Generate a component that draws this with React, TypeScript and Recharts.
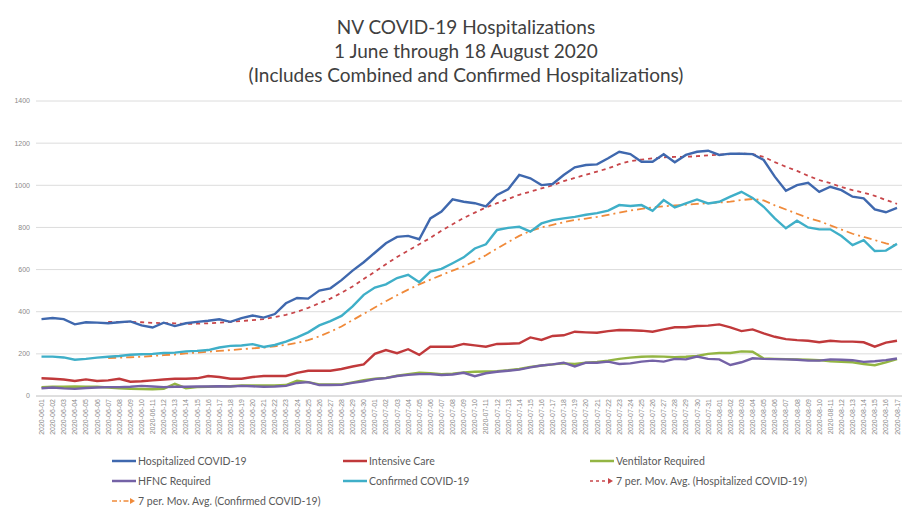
import React from 'react';
import { LineChart, Line, XAxis, YAxis, CartesianGrid } from 'recharts';

const dates = [
  '2020-06-01','2020-06-02','2020-06-03','2020-06-04','2020-06-05','2020-06-06','2020-06-07','2020-06-08','2020-06-09','2020-06-10',
  '2020-06-11','2020-06-12','2020-06-13','2020-06-14','2020-06-15','2020-06-16','2020-06-17','2020-06-18','2020-06-19','2020-06-20',
  '2020-06-21','2020-06-22','2020-06-23','2020-06-24','2020-06-25','2020-06-26','2020-06-27','2020-06-28','2020-06-29','2020-06-30',
  '2020-07-01','2020-07-02','2020-07-03','2020-07-04','2020-07-05','2020-07-06','2020-07-07','2020-07-08','2020-07-09','2020-07-10',
  '2020-07-11','2020-07-12','2020-07-13','2020-07-14','2020-07-15','2020-07-16','2020-07-17','2020-07-18','2020-07-19','2020-07-20',
  '2020-07-21','2020-07-22','2020-07-23','2020-07-24','2020-07-25','2020-07-26','2020-07-27','2020-07-28','2020-07-29','2020-07-30',
  '2020-07-31','2020-08-01','2020-08-02','2020-08-03','2020-08-04','2020-08-05','2020-08-06','2020-08-07','2020-08-08','2020-08-09',
  '2020-08-10','2020-08-11','2020-08-12','2020-08-13','2020-08-14','2020-08-15','2020-08-16','2020-08-17',
];

const hospitalized = [
  365, 370, 365, 340, 350, 348, 345, 350, 354, 335,
  325, 348, 332, 345, 352, 357, 364, 352, 370, 382,
  372, 389, 440, 465, 462, 500, 511, 550, 595, 635,
  680, 725, 755, 760, 744, 843, 875, 933, 922, 915,
  900, 954, 981, 1049, 1033, 1001, 1006, 1049, 1085, 1096,
  1099, 1128, 1159, 1148, 1112, 1112, 1147, 1109, 1144, 1159,
  1164, 1144, 1150, 1150, 1148, 1120, 1041, 974, 1001, 1012,
  969, 993, 977, 946, 938, 886, 872, 893,
];

const intensiveCare = [
  84, 82, 78, 71, 79, 71, 74, 82, 68, 70,
  74, 78, 82, 82, 84, 95, 90, 82, 82, 90,
  95, 95, 95, 110, 120, 120, 120, 128, 140, 150,
  200, 218, 203, 222, 195, 234, 234, 234, 247, 240,
  234, 247, 248, 250, 278, 266, 285, 288, 305, 302,
  300, 308, 313, 312, 310, 305, 316, 326, 326, 332,
  334, 340, 326, 308, 316, 297, 281, 270, 265, 262,
  255, 262, 258, 258, 255, 234, 253, 262,
];

const ventilator = [
  42, 44, 44, 45, 44, 44, 40, 36, 34, 33,
  32, 34, 58, 37, 42, 44, 46, 46, 50, 50,
  50, 50, 52, 72, 66, 55, 55, 55, 65, 75,
  82, 86, 96, 104, 111, 108, 104, 106, 112, 115,
  116, 118, 122, 128, 138, 145, 150, 155, 152, 158,
  162, 168, 176, 182, 186, 188, 187, 184, 186, 190,
  200, 204, 204, 212, 210, 178, 176, 175, 174, 172,
  170, 165, 162, 160, 152, 146, 160, 175,
];

const hfnc = [
  37, 40, 36, 34, 38, 40, 42, 42, 44, 48,
  45, 42, 44, 44, 45, 45, 46, 45, 48, 46,
  44, 45, 48, 62, 66, 52, 52, 53, 62, 70,
  80, 85, 95, 100, 104, 104, 100, 102, 110, 94,
  108, 115, 120, 125, 136, 145, 150, 158, 140, 158,
  158, 163, 152, 155, 163, 168, 163, 176, 174, 187,
  176, 174, 147, 160, 179, 176, 175, 174, 172, 168,
  168, 174, 172, 170, 162, 165, 170, 178,
];

const confirmed = [
  187, 187, 183, 172, 176, 182, 186, 190, 196, 198,
  200, 204, 206, 212, 214, 218, 230, 238, 240, 246,
  233, 242, 258, 278, 302, 335, 355, 380, 425, 480,
  515, 530, 560, 575, 540, 590, 603, 630, 658, 700,
  720, 788, 798, 803, 780, 819, 835, 843, 850, 860,
  868, 880, 906, 902, 906, 879, 930, 895, 914, 933,
  914, 922, 946, 969, 940, 898, 843, 796, 832, 800,
  791, 791, 759, 716, 740, 688, 690, 722,
];

const maHospitalized = [
  null, null, null, null, null, null, 352, 352, 352, 350,
  347, 346, 345, 342, 343, 345, 348, 352, 356, 360,
  365, 375, 385, 400, 418, 440, 462, 490, 520, 555,
  590, 625, 660, 690, 720, 750, 785, 815, 845, 870,
  895, 915, 935, 955, 970, 985, 1000, 1020, 1035, 1050,
  1065, 1080, 1100, 1115, 1122, 1128, 1132, 1135, 1135, 1138,
  1142, 1145, 1148, 1150, 1148, 1135, 1110, 1088, 1068, 1045,
  1025, 1010, 992, 977, 965, 950, 930, 912,
];

const maConfirmed = [
  null, null, null, null, null, null, 180, 182, 184, 186,
  190, 194, 197, 202, 206, 210, 214, 218, 222, 226,
  230, 236, 243, 252, 265, 283, 305, 330, 360, 390,
  420, 450, 478, 505, 530, 552, 574, 595, 615, 640,
  668, 700, 730, 760, 783, 800, 812, 825, 835, 842,
  850, 860, 870, 880, 888, 895, 900, 904, 908, 912,
  915, 918, 922, 930, 935, 928, 905, 885, 865, 845,
  830, 810, 790, 770, 755, 740, 724, 712,
];

const yTicks = [0, 200, 400, 600, 800, 1000, 1200, 1400];

const titleLines = [
  'NV COVID-19 Hospitalizations',
  '1 June through 18 August 2020',
  '(Includes Combined and Confirmed Hospitalizations)',
];

const C_HOSP = '#3F68AE';
const C_ICU = '#C0393B';
const C_VENT = '#93B543';
const C_HFNC = '#7462A6';
const C_CONF = '#3FAFC8';
const C_MAH = '#C8464A';
const C_MAC = '#F08A3A';

const data = dates.map((d, i) => ({
  date: d,
  hospitalized: hospitalized[i],
  intensiveCare: intensiveCare[i],
  ventilator: ventilator[i],
  hfnc: hfnc[i],
  confirmed: confirmed[i],
  maHospitalized: maHospitalized[i],
  maConfirmed: maConfirmed[i],
}));

const legendItems = [
  { name: 'Hospitalized COVID-19', color: C_HOSP, kind: 'solid', x: 112, y: 461 },
  { name: 'Intensive Care', color: C_ICU, kind: 'solid', x: 343, y: 461 },
  { name: 'Ventilator Required', color: C_VENT, kind: 'solid', x: 590, y: 461 },
  { name: 'HFNC Required', color: C_HFNC, kind: 'solid', x: 112, y: 481 },
  { name: 'Confirmed COVID-19', color: C_CONF, kind: 'solid', x: 343, y: 481 },
  { name: '7 per. Mov. Avg. (Hospitalized COVID-19)', color: C_MAH, kind: 'dash', x: 590, y: 481 },
  { name: '7 per. Mov. Avg. (Confirmed COVID-19)', color: C_MAC, kind: 'dashdot', x: 112, y: 501 },
];

const FONT = 'Lato, "Open Sans", sans-serif';

function XTick(props: any) {
  const { x, y, payload } = props;
  return (
    <g transform={`translate(${x},${y})`}>
      <text
        transform="rotate(-90)"
        x={-1}
        y={0}
        dy={2.5}
        textAnchor="end"
        fontSize={7}
        fill="#8a8a8a"
        fontFamily='"Liberation Sans", sans-serif'
      >
        {payload.value}
      </text>
    </g>
  );
}

function LegendSwatch({ color, kind }: { color: string; kind: string }) {
  if (kind === 'solid') {
    return (
      <svg width={24} height={10} style={{ display: 'block' }}>
        <line x1={0} y1={5} x2={24} y2={5} stroke={color} strokeWidth={2.5} />
      </svg>
    );
  }
  return (
    <svg width={24} height={10} style={{ display: 'block' }}>
      <line
        x1={0}
        y1={5}
        x2={19}
        y2={5}
        stroke={color}
        strokeWidth={1.6}
        strokeDasharray={kind === 'dash' ? '3 3' : '5 2.5 1.5 2.5'}
      />
      <polygon points="18,2 23,5 18,8" fill={color} />
    </svg>
  );
}

export default function App() {
  return (
    <div style={{ position: 'absolute', left: 0, top: 0, width: 902, height: 510, background: '#fff', overflow: 'hidden' }}>
      <LineChart width={902} height={510} data={data} margin={{ top: 101, right: 0, left: 0, bottom: 0 }}>
        <CartesianGrid vertical={false} stroke="#dcdcdc" strokeWidth={1} />
        <XAxis
          dataKey="date"
          interval={0}
          height={114}
          tickLine={false}
          tickSize={0}
          tickMargin={2}
          axisLine={{ stroke: '#d0d0d0' }}
          padding={{ left: 5.5, right: 5 }}
          tick={<XTick />}
        />
        <YAxis
          width={36}
          domain={[0, 1400]}
          ticks={yTicks}
          axisLine={false}
          tickLine={false}
          tickSize={0}
          tickMargin={6}
          tick={{ fontSize: 7, fill: '#8a8a8a', fontFamily: '"Liberation Sans", sans-serif' }}
        />
        <Line type="linear" dataKey="ventilator" stroke={C_VENT} strokeWidth={2.4} dot={false} isAnimationActive={false} />
        <Line type="linear" dataKey="hfnc" stroke={C_HFNC} strokeWidth={2.4} dot={false} isAnimationActive={false} />
        <Line type="linear" dataKey="intensiveCare" stroke={C_ICU} strokeWidth={2.4} dot={false} isAnimationActive={false} />
        <Line type="linear" dataKey="maConfirmed" stroke={C_MAC} strokeWidth={1.8} strokeDasharray="8 4 2 4" dot={false} connectNulls={false} isAnimationActive={false} />
        <Line type="linear" dataKey="confirmed" stroke={C_CONF} strokeWidth={2.4} dot={false} isAnimationActive={false} />
        <Line type="linear" dataKey="maHospitalized" stroke={C_MAH} strokeWidth={1.8} strokeDasharray="4 4" dot={false} connectNulls={false} isAnimationActive={false} />
        <Line type="linear" dataKey="hospitalized" stroke={C_HOSP} strokeWidth={2.4} dot={false} isAnimationActive={false} />
      </LineChart>

      {titleLines.map((t, i) => (
        <div
          key={t}
          style={{
            position: 'absolute',
            left: 0,
            width: 932,
            top: 15 + i * 24,
            textAlign: 'center',
            fontFamily: FONT,
            fontSize: 19,
            lineHeight: '24px',
            color: '#404040',
            whiteSpace: 'nowrap',
          }}
        >
          {t}
        </div>
      ))}

      {legendItems.map((it) => (
        <div
          key={it.name}
          style={{
            position: 'absolute',
            left: it.x,
            top: it.y - 7,
            height: 14,
            display: 'flex',
            alignItems: 'center',
            fontFamily: FONT,
            fontSize: 10.5,
            color: '#595959',
            whiteSpace: 'nowrap',
          }}
        >
          <LegendSwatch color={it.color} kind={it.kind} />
          <span style={{ marginLeft: 2 }}>{it.name}</span>
        </div>
      ))}
    </div>
  );
}
